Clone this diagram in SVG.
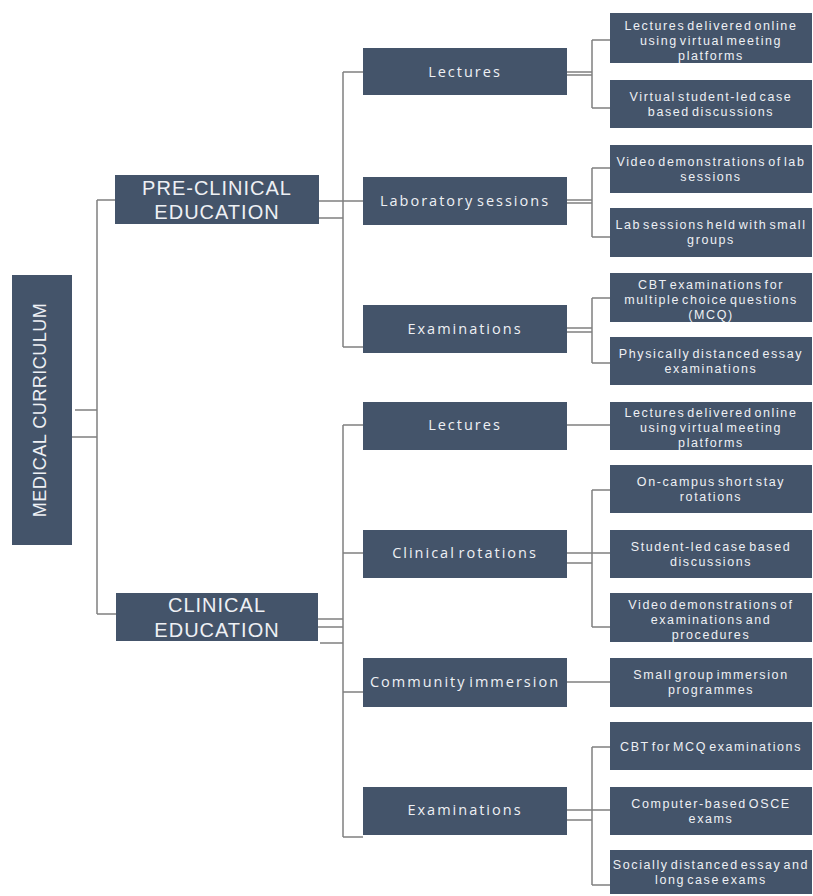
<svg xmlns="http://www.w3.org/2000/svg" width="813" height="896" viewBox="0 0 813 896">
<style>
.box{fill:#44546a}
.t{fill:#eef0f4;font-family:"Open Sans","Liberation Sans",sans-serif;text-anchor:middle}
.leaf{font-family:"Liberation Sans",sans-serif;font-size:12.5px;letter-spacing:1.6px;word-spacing:-3px}
.mid{font-size:14.5px;letter-spacing:2px;word-spacing:-3px}
.big{font-family:"Liberation Sans","Open Sans",sans-serif;font-size:20px;letter-spacing:1px}
.root{font-family:"Liberation Sans",sans-serif;font-size:18px;letter-spacing:0.5px}
#connectors line{stroke:#7f7f7f;stroke-width:1.5;fill:none}
</style>
<g id="connectors">
<line x1="75" y1="410" x2="97" y2="410"/><line x1="72" y1="437" x2="97" y2="437"/>
<line x1="97" y1="200" x2="97" y2="614"/><line x1="97" y1="200" x2="115" y2="200"/><line x1="97" y1="614" x2="116" y2="614"/>
<line x1="319" y1="201" x2="363" y2="201"/><line x1="319" y1="218" x2="343" y2="218"/>
<line x1="343" y1="72" x2="343" y2="347"/><line x1="343" y1="72" x2="363" y2="72"/><line x1="343" y1="347" x2="363" y2="347"/>
<line x1="567" y1="72" x2="592" y2="72"/><line x1="567" y1="75" x2="592" y2="75"/>
<line x1="592" y1="40" x2="592" y2="108"/><line x1="592" y1="40" x2="610" y2="40"/><line x1="592" y1="108" x2="610" y2="108"/>
<line x1="567" y1="200" x2="592" y2="200"/><line x1="567" y1="203" x2="592" y2="203"/>
<line x1="592" y1="168" x2="592" y2="237"/><line x1="592" y1="168" x2="610" y2="168"/><line x1="592" y1="237" x2="610" y2="237"/>
<line x1="567" y1="328" x2="592" y2="328"/><line x1="567" y1="332" x2="592" y2="332"/>
<line x1="592" y1="298" x2="592" y2="363"/><line x1="592" y1="298" x2="610" y2="298"/><line x1="592" y1="363" x2="610" y2="363"/>
<line x1="318" y1="619" x2="343" y2="619"/><line x1="318" y1="627" x2="343" y2="627"/><line x1="320" y1="643" x2="343" y2="643"/>
<line x1="343" y1="425" x2="343" y2="837"/><line x1="343" y1="425" x2="363" y2="425"/><line x1="343" y1="553" x2="363" y2="553"/>
<line x1="343" y1="692" x2="363" y2="692"/><line x1="343" y1="837" x2="363" y2="837"/>
<line x1="567" y1="425" x2="610" y2="425"/>
<line x1="567" y1="553" x2="610" y2="553"/><line x1="567" y1="563" x2="592" y2="563"/>
<line x1="592" y1="490" x2="592" y2="627"/><line x1="592" y1="490" x2="610" y2="490"/><line x1="592" y1="627" x2="610" y2="627"/>
<line x1="567" y1="682" x2="610" y2="682"/>
<line x1="567" y1="810" x2="610" y2="810"/><line x1="567" y1="820" x2="592" y2="820"/>
<line x1="592" y1="747" x2="592" y2="885"/><line x1="592" y1="747" x2="610" y2="747"/><line x1="592" y1="885" x2="610" y2="885"/>
</g>
<g id="root"><rect class="box" x="12" y="275" width="60" height="270"/><text class="t root" transform="translate(46 410) rotate(-90)">MEDICAL CURRICULUM</text></g>
<g id="preclinical"><rect class="box" x="115" y="175" width="204" height="49"/><text class="t big" x="217" y="195">PRE-CLINICAL</text><text class="t big" x="217" y="219">EDUCATION</text></g>
<g id="clinical"><rect class="box" x="116" y="593" width="202" height="48"/><text class="t big" x="217" y="612">CLINICAL</text><text class="t big" x="217" y="637">EDUCATION</text></g>
<g id="pre-lectures"><rect class="box" x="363" y="48" width="204" height="47"/><text class="t mid" x="465" y="77">Lectures</text></g>
<g id="pre-lab"><rect class="box" x="363" y="177" width="204" height="48"/><text class="t mid" x="465" y="206">Laboratory sessions</text></g>
<g id="pre-exams"><rect class="box" x="363" y="305" width="204" height="48"/><text class="t mid" x="465" y="334">Examinations</text></g>
<g id="cl-lectures"><rect class="box" x="363" y="402" width="204" height="48"/><text class="t mid" x="465" y="430">Lectures</text></g>
<g id="cl-rotations"><rect class="box" x="363" y="530" width="204" height="48"/><text class="t mid" x="465" y="558">Clinical rotations</text></g>
<g id="cl-community"><rect class="box" x="363" y="658" width="204" height="49"/><text class="t mid" x="465" y="687">Community immersion</text></g>
<g id="cl-exams"><rect class="box" x="363" y="787" width="204" height="48"/><text class="t mid" x="465" y="815">Examinations</text></g>
<g id="leaf1"><rect class="box" x="610" y="13" width="202" height="50"/><text class="t leaf" x="711" y="30">Lectures delivered online</text><text class="t leaf" x="711" y="45">using virtual meeting</text><text class="t leaf" x="711" y="60">platforms</text></g>
<g id="leaf2"><rect class="box" x="610" y="80" width="202" height="48"/><text class="t leaf" x="711" y="101">Virtual student-led case</text><text class="t leaf" x="711" y="116">based discussions</text></g>
<g id="leaf3"><rect class="box" x="610" y="145" width="202" height="48"/><text class="t leaf" x="711" y="166">Video demonstrations of lab</text><text class="t leaf" x="711" y="181">sessions</text></g>
<g id="leaf4"><rect class="box" x="610" y="208" width="202" height="49"/><text class="t leaf" x="711" y="229">Lab sessions held with small</text><text class="t leaf" x="711" y="244">groups</text></g>
<g id="leaf5"><rect class="box" x="610" y="273" width="202" height="49"/><text class="t leaf" x="711" y="289">CBT examinations for</text><text class="t leaf" x="711" y="304">multiple choice questions</text><text class="t leaf" x="711" y="319">(MCQ)</text></g>
<g id="leaf6"><rect class="box" x="610" y="337" width="202" height="48"/><text class="t leaf" x="711" y="358">Physically distanced essay</text><text class="t leaf" x="711" y="373">examinations</text></g>
<g id="leaf7"><rect class="box" x="610" y="402" width="202" height="48"/><text class="t leaf" x="711" y="417">Lectures delivered online</text><text class="t leaf" x="711" y="432">using virtual meeting</text><text class="t leaf" x="711" y="447">platforms</text></g>
<g id="leaf8"><rect class="box" x="610" y="465" width="202" height="48"/><text class="t leaf" x="711" y="486">On-campus short stay</text><text class="t leaf" x="711" y="501">rotations</text></g>
<g id="leaf9"><rect class="box" x="610" y="530" width="202" height="48"/><text class="t leaf" x="711" y="551">Student-led case based</text><text class="t leaf" x="711" y="566">discussions</text></g>
<g id="leaf10"><rect class="box" x="610" y="593" width="202" height="49"/><text class="t leaf" x="711" y="609">Video demonstrations of</text><text class="t leaf" x="711" y="624">examinations and</text><text class="t leaf" x="711" y="639">procedures</text></g>
<g id="leaf11"><rect class="box" x="610" y="658" width="202" height="49"/><text class="t leaf" x="711" y="679">Small group immersion</text><text class="t leaf" x="711" y="694">programmes</text></g>
<g id="leaf12"><rect class="box" x="610" y="722" width="202" height="48"/><text class="t leaf" x="711" y="751">CBT for MCQ  examinations</text></g>
<g id="leaf13"><rect class="box" x="610" y="787" width="202" height="48"/><text class="t leaf" x="711" y="808">Computer-based OSCE</text><text class="t leaf" x="711" y="823">exams</text></g>
<g id="leaf14"><rect class="box" x="610" y="850" width="202" height="44"/><text class="t leaf" x="711" y="869">Socially distanced essay and</text><text class="t leaf" x="711" y="884">long case exams</text></g>
</svg>
